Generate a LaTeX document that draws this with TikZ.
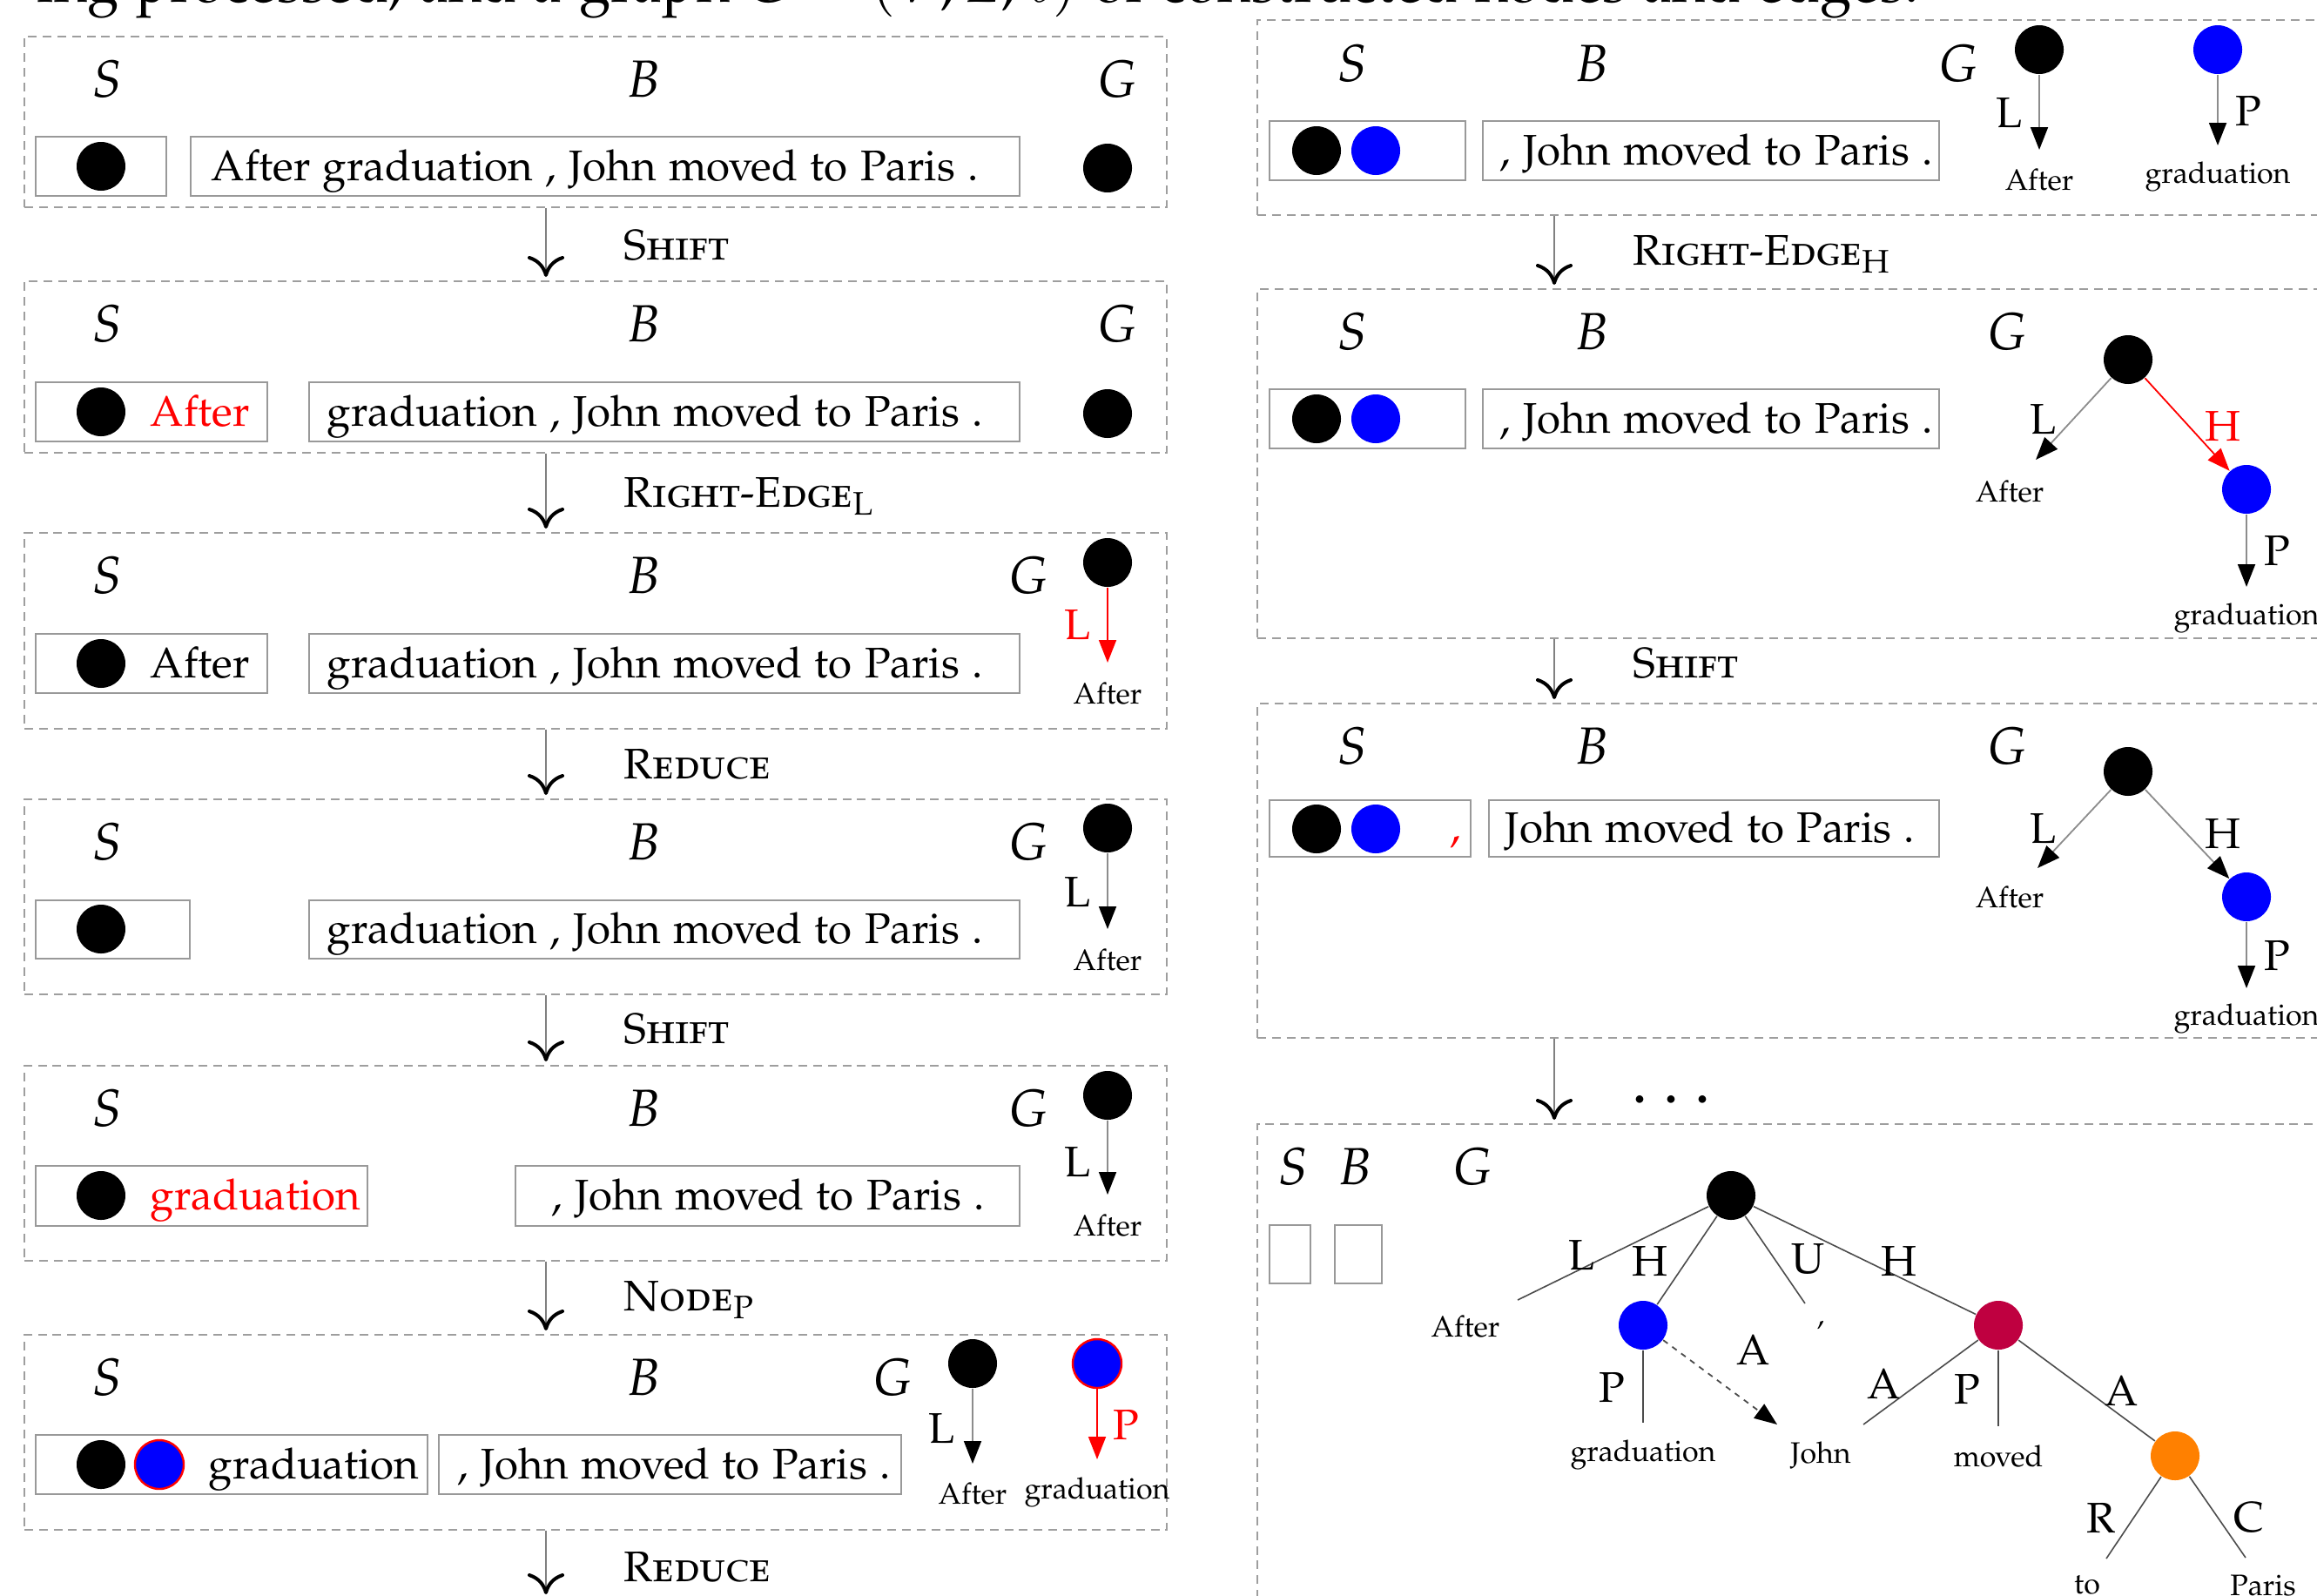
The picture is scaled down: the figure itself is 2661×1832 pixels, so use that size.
\documentclass[tikz,border=0pt]{standalone}
\usepackage[T1]{fontenc}
\usepackage[sc]{mathpazo}
\usetikzlibrary{arrows.meta,fit}

\tikzset{
  panel/.style={draw=black!38, line width=0.5pt, dash pattern=on 2.5pt off 1.7pt, inner sep=0pt},
  tbox/.style={draw=black!40, line width=0.55pt, inner sep=0pt},
  dot/.style={circle, fill=black, minimum size=14pt, inner sep=0pt},
  bluedot/.style={dot, fill=blue},
  word/.style={font=\fontsize{12.3}{14}\selectfont, inner sep=0pt},
  smallword/.style={font=\fontsize{8.5}{10}\selectfont, inner sep=0pt},
  sbg/.style={font=\fontsize{15}{18}\selectfont, inner sep=0pt, anchor=base},
  act/.style={font=\fontsize{12.3}{14}\selectfont, inner sep=0pt, anchor=base west},
  trans/.style={draw=black!50, line width=0.5pt,
    -{Computer Modern Rightarrow[length=6pt,width=10.5pt,line width=1pt,color=black]}},
  garr/.style={draw=black!45, line width=0.45pt, -{Triangle[length=6.5pt,width=5pt,color=black]}},
  rarr/.style={draw=red, line width=0.45pt, -{Triangle[length=6.5pt,width=5pt]}},
  tedge/.style={draw=black!70, line width=0.4pt},
}
\newcommand\panelbox[5]{\node[panel, fit={(#2,#3) (#4,#5)}] (#1) {};}
\newcommand\stackbox[5]{\node[tbox, fit={(#2,#3) (#4,#5)}] (#1) {};}
% buffer box: frame plus its words, left-aligned at x=#6 on a baseline 16 units below the centre
\newcommand\bufbox[7]{\node[tbox, fit={(#2,#3) (#4,#5)}] (#1) {};
  \node[word, anchor=base west] (#1t) at (#6,{(#3+#5)/2+16}) {#7};}
\newcommand\sbglabels[5]{%
  \node[sbg] (#1S) at (#2,#5) {$S$};
  \node[sbg] (#1B) at (#3,#5) {$B$};
  \node[sbg] (#1G) at (#4,#5) {$G$};}

\begin{document}
\begin{tikzpicture}[x=0.25pt,y=-0.25pt]
\useasboundingbox (0,0) rectangle (2661,1832);
\clip (0,0) rectangle (2661,1832);

% running text above the figure
\node[anchor=base west, inner sep=0pt, font=\fontsize{16.5}{20}\selectfont] (caption) at (42,2)
  {ing processed, and a graph $G=(V,E,\ell)$ of constructed nodes and edges.};

% ================= left column =================
\coordinate (lx) at (627,0);

% state 1
\panelbox{p1}{28}{42}{1340}{238}
\sbglabels{p1}{123}{739}{1283}{111}
\stackbox{p1s}{41}{157}{191}{225}
\node[dot] (p1s1) at (116,191) {};
\bufbox{p1b}{219}{157}{1171}{225}{242}{After graduation , John moved to Paris .}
\node[dot] (p1g) at (1272,193) {};

% state 2
\panelbox{p2}{28}{323}{1340}{520}
\sbglabels{p2}{123}{739}{1283}{392}
\stackbox{p2s}{41}{439}{307}{507}
\node[dot] (p2s1) at (116,473) {};
\node[word, red, anchor=base west] (p2sw) at (172,489) {After};
\bufbox{p2b}{355}{439}{1171}{507}{375}{graduation , John moved to Paris .}
\node[dot] (p2g) at (1272,475) {};

% state 3
\panelbox{p3}{28}{612}{1340}{837}
\sbglabels{p3}{123}{739}{1181}{681}
\stackbox{p3s}{41}{728}{307}{796}
\node[dot] (p3s1) at (116,762) {};
\node[word, anchor=base west] (p3sw) at (172,778) {After};
\bufbox{p3b}{355}{728}{1171}{796}{375}{graduation , John moved to Paris .}
\node[dot] (p3g) at (1272,646) {};
\coordinate (p3tip) at (1272,761);
\draw[rarr] (p3g) -- (p3tip);
\node[word, red] (p3L) at (1238,718) {L};
\node[smallword] (p3w) at (1272,797) {After};

% state 4
\panelbox{p4}{28}{918}{1340}{1142}
\sbglabels{p4}{123}{739}{1181}{987}
\stackbox{p4s}{41}{1034}{218}{1101}
\node[dot] (p4s1) at (116,1067) {};
\bufbox{p4b}{355}{1034}{1171}{1101}{375}{graduation , John moved to Paris .}
\node[dot] (p4g) at (1272,951) {};
\coordinate (p4tip) at (1272,1067);
\draw[garr] (p4g) -- (p4tip);
\node[word] (p4L) at (1238,1024) {L};
\node[smallword] (p4w) at (1272,1103) {After};

% state 5
\panelbox{p5}{28}{1224}{1340}{1448}
\sbglabels{p5}{123}{739}{1181}{1293}
\stackbox{p5s}{41}{1339}{422}{1408}
\node[dot] (p5s1) at (116,1373) {};
\node[word, red, anchor=base west] (p5sw) at (172,1389) {graduation};
\bufbox{p5b}{592}{1339}{1171}{1408}{633}{, John moved to Paris .}
\node[dot] (p5g) at (1272,1258) {};
\coordinate (p5tip) at (1272,1372);
\draw[garr] (p5g) -- (p5tip);
\node[word] (p5L) at (1238,1334) {L};
\node[smallword] (p5w) at (1272,1408) {After};

% state 6
\panelbox{p6}{28}{1533}{1340}{1757}
\sbglabels{p6}{123}{739}{1025}{1602}
\stackbox{p6s}{41}{1648}{491}{1716}
\node[dot] (p6s1) at (116,1682) {};
\node[bluedot, draw=red, line width=0.6pt] (p6s2) at (183,1682) {};
\node[word, anchor=base west] (p6sw) at (239,1698) {graduation};
\bufbox{p6b}{504}{1648}{1035}{1716}{525}{, John moved to Paris .}
\node[dot] (p6g) at (1117,1566) {};
\coordinate (p6tip) at (1117,1681);
\draw[garr] (p6g) -- (p6tip);
\node[word] (p6L) at (1082,1640) {L};
\node[smallword] (p6w) at (1117,1716) {After};
\node[bluedot, draw=red, line width=0.6pt] (p6g2) at (1260,1566) {};
\coordinate (p6tip2) at (1260,1676);
\draw[rarr] (p6g2) -- (p6tip2);
\node[word, red] (p6P) at (1293,1636) {P};
\node[smallword] (p6w2) at (1260,1714) {graduation};

% transitions
\draw[trans] (p1.south -| lx) -- ([yshift=1pt]p2.north -| lx);
\node[act] (t1) at (716,298) {\textsc{Shift}};
\draw[trans] (p2.south -| lx) -- ([yshift=1pt]p3.north -| lx);
\node[act] (t2) at (716,582) {\textsc{Right-Edge}$_{\mathrm{L}}$};
\draw[trans] (p3.south -| lx) -- ([yshift=1pt]p4.north -| lx);
\node[act] (t3) at (716,894) {\textsc{Reduce}};
\draw[trans] (p4.south -| lx) -- ([yshift=1pt]p5.north -| lx);
\node[act] (t4) at (716,1198) {\textsc{Shift}};
\draw[trans] (p5.south -| lx) -- ([yshift=1pt]p6.north -| lx);
\node[act] (t5) at (716,1505) {\textsc{Node}$_{\mathrm{P}}$};
\coordinate (a6end) at (627,1831);
\draw[trans] (p6.south -| lx) -- (a6end);
\node[act] (t6) at (716,1816) {\textsc{Reduce}};

% ================= right column =================
\coordinate (rx) at (1785,0);

% state r1
\panelbox{r1}{1444}{23}{2720}{247}
\sbglabels{r1}{1553}{1828}{2249}{93}
\stackbox{r1s}{1458}{139}{1683}{207}
\node[dot] (r1s1) at (1512,173) {};
\node[bluedot] (r1s2) at (1580,173) {};
\bufbox{r1b}{1703}{139}{2227}{207}{1722}{, John moved to Paris .}
\node[dot] (r1g) at (2342,57) {};
\coordinate (r1tip) at (2342,172);
\draw[garr] (r1g) -- (r1tip);
\node[word] (r1L) at (2307,130) {L};
\node[smallword] (r1w) at (2342,207) {After};
\node[bluedot] (r1g2) at (2547,57) {};
\coordinate (r1tip2) at (2547,167);
\draw[garr] (r1g2) -- (r1tip2);
\node[word] (r1P) at (2582,128) {P};
\node[smallword] (r1w2) at (2547,203) {graduation};

% state r2
\panelbox{r2}{1444}{332}{2720}{733}
\sbglabels{r2}{1553}{1828}{2305}{401}
\stackbox{r2s}{1458}{447}{1683}{515}
\node[dot] (r2s1) at (1512,481) {};
\node[bluedot] (r2s2) at (1580,481) {};
\bufbox{r2b}{1703}{447}{2227}{515}{1722}{, John moved to Paris .}
\node[dot] (r2g) at (2444,413) {};
\coordinate (r2tipL) at (2338,528);
\draw[garr] (r2g) -- (r2tipL);
\node[word] (r2L) at (2346,482) {L};
\node[smallword] (r2w) at (2308,565) {After};
\node[bluedot] (r2g2) at (2580,562) {};
\draw[rarr] (r2g) -- (r2g2);
\node[word, red] (r2H) at (2553,490) {H};
\coordinate (r2tipP) at (2580,674);
\draw[garr] (r2g2) -- (r2tipP);
\node[word] (r2P) at (2615,633) {P};
\node[smallword] (r2w2) at (2580,710) {graduation};

% state r3
\panelbox{r3}{1444}{808}{2720}{1192}
\sbglabels{r3}{1553}{1828}{2305}{877}
\stackbox{r3s}{1458}{919}{1689}{984}
\node[dot] (r3s1) at (1512,952) {};
\node[bluedot] (r3s2) at (1580,952) {};
\node[word, red, anchor=base] (r3sw) at (1672,966) {,};
\bufbox{r3b}{1710}{919}{2227}{984}{1728}{John moved to Paris .}
\node[dot] (r3g) at (2444,886) {};
\coordinate (r3tipL) at (2340,997);
\draw[garr] (r3g) -- (r3tipL);
\node[word] (r3L) at (2346,952) {L};
\node[smallword] (r3w) at (2308,1031) {After};
\node[bluedot] (r3g2) at (2580,1030) {};
\draw[garr] (r3g) -- (r3g2);
\node[word] (r3H) at (2553,958) {H};
\coordinate (r3tipP) at (2580,1135);
\draw[garr] (r3g2) -- (r3tipP);
\node[word] (r3P) at (2615,1097) {P};
\node[smallword] (r3w2) at (2580,1170) {graduation};

% final state r4
\panelbox{r4}{1444}{1291}{2720}{1900}
\sbglabels{r4}{1485}{1556}{1691}{1360}
\stackbox{r4s}{1458}{1407}{1505}{1474}
\stackbox{r4b}{1533}{1407}{1587}{1474}

\node[dot] (n0) at (1988,1373) {};
\node[bluedot] (n1) at (1887,1522) {};
\node[dot, fill=purple] (n2) at (2295,1522) {};
\node[dot, fill=orange] (n3) at (2498,1672) {};

\coordinate (eAfter) at (1743,1493);
\coordinate (eComma) at (2073,1497);
\coordinate (eGrad) at (1887,1634);
\coordinate (eJohn) at (2041,1636);
\coordinate (eJohnA) at (2140,1636);
\coordinate (eMoved) at (2295,1638);
\coordinate (eTo) at (2419,1790);
\coordinate (eParis) at (2579,1789);

\draw[tedge] (n0) -- (eAfter);
\draw[tedge] (n0) -- (n1);
\draw[tedge] (n0) -- (eComma);
\draw[tedge] (n0) -- (n2);
\draw[tedge] (n1) -- (eGrad);
\draw[garr, draw=black!70, dash pattern=on 1.6pt off 1.6pt] (n1) -- (eJohn);
\draw[tedge] (n2) -- (eJohnA);
\draw[tedge] (n2) -- (eMoved);
\draw[tedge] (n2) -- (n3);
\draw[tedge] (n3) -- (eTo);
\draw[tedge] (n3) -- (eParis);

\node[word] (lL) at (1816,1441) {L};
\node[word] (lH1) at (1895,1448) {H};
\node[word] (lU) at (2077,1446) {U};
\node[word] (lH2) at (2181,1448) {H};
\node[word] (lP1) at (1851,1593) {P};
\node[word] (lA1) at (2014,1550) {A};
\node[word] (lA2) at (2164,1589) {A};
\node[word] (lP2) at (2259,1595) {P};
\node[word] (lA3) at (2437,1597) {A};
\node[word] (lR) at (2413,1743) {R};
\node[word] (lC) at (2583,1743) {C};

\node[smallword] (wAfter) at (1683,1524) {After};
\node[smallword] (wComma) at (2091,1522) {,};
\node[smallword] (wGrad) at (1887,1671) {graduation};
\node[smallword] (wJohn) at (2091,1671) {John};
\node[smallword] (wMoved) at (2295,1673) {moved};
\node[smallword] (wTo) at (2397,1821) {to};
\node[smallword] (wParis) at (2599,1821) {Paris};

% transitions
\draw[trans] (r1.south -| rx) -- ([yshift=1pt]r2.north -| rx);
\node[act] (rt1) at (1875,304) {\textsc{Right-Edge}$_{\mathrm{H}}$};
\draw[trans] (r2.south -| rx) -- ([yshift=1pt]r3.north -| rx);
\node[act] (rt2) at (1875,778) {\textsc{Shift}};
\draw[trans] (r3.south -| rx) -- ([yshift=1pt]r4.north -| rx);
\node[act, font=\fontsize{14}{16}\bfseries] (rt3) at (1876,1266) {.\kern5.5pt.\kern5.5pt.};
\end{tikzpicture}
\end{document}
